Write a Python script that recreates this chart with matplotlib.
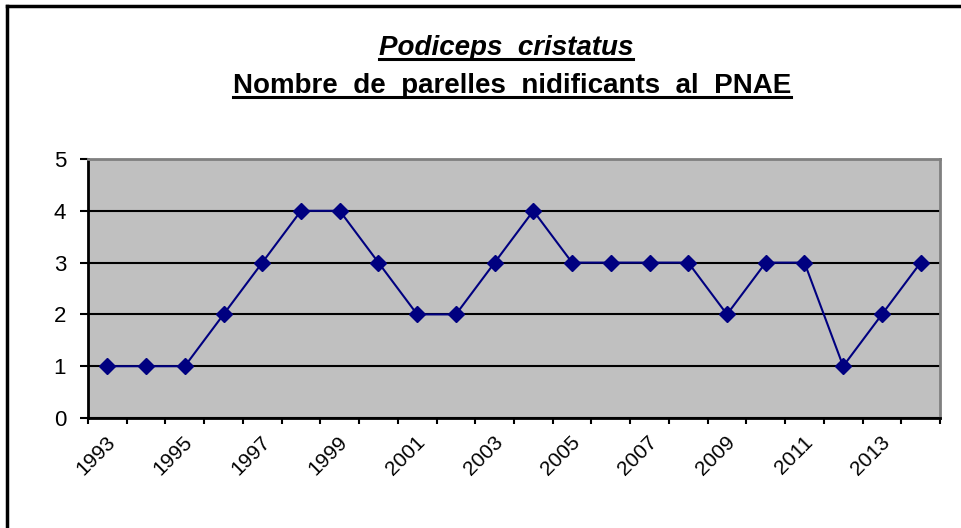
import matplotlib
matplotlib.use("Agg")
import matplotlib.pyplot as plt
import matplotlib.transforms as mtransforms
from matplotlib.lines import Line2D

plt.rcParams["font.family"] = ["Liberation Sans", "DejaVu Sans"]

# data
years = [str(y) for y in range(1993, 2015)]
parelles = [1, 1, 1, 2, 3, 4, 4, 3, 2, 2, 3, 4, 3, 3, 3, 3, 2, 3, 3, 1, 2, 3]
y_ticks = [0, 1, 2, 3, 4, 5]

W, H = 961, 528
fig = plt.figure(figsize=(W / 100, H / 100), dpi=100)
ax = fig.add_axes([88 / W, 1 - 418 / H, (940 - 88) / W, (418 - 159) / H])

ax.set_facecolor("#C0C0C0")
x = list(range(len(years)))
ax.plot(x, parelles, color="#000080", lw=1.5, marker="D", ms=8,
        mfc="#000080", mec="#000080", zorder=3, clip_on=False)

ax.set_xlim(-0.5, len(years) - 0.5)
ax.set_ylim(0, 5)
ax.set_yticks(y_ticks)
ax.yaxis.grid(True, color="black", lw=1.5)
ax.set_axisbelow(True)
ax.tick_params(axis="y", labelsize=16, length=5.8, width=1.5, direction="out", pad=10)

# labels on every other category, tick marks between categories
ax.set_xticks(x[::2])
ax.set_xticklabels(years[::2], rotation=45, ha="right", va="center",
                   rotation_mode="anchor", fontsize=15)
ax.tick_params(axis="x", which="major", length=0, pad=15)
ax.set_xticks([i - 0.5 for i in range(len(years) + 1)], minor=True)
ax.tick_params(axis="x", which="minor", length=4.5, width=1.5, direction="out")
shift = mtransforms.ScaledTranslation(5 / 100, 0, fig.dpi_scale_trans)
for lbl in ax.get_xticklabels():
    lbl.set_transform(lbl.get_transform() + shift)

for side in ["left", "bottom"]:
    ax.spines[side].set_color("black")
    ax.spines[side].set_linewidth(2)
for side in ["top", "right"]:
    ax.spines[side].set_color("#808080")
    ax.spines[side].set_linewidth(2)

# chart frame (only top and left edges visible)
fig.add_artist(Line2D([7 / W, 1], [1 - 6 / H, 1 - 6 / H], color="black", lw=2.5))
fig.add_artist(Line2D([7 / W, 7 / W], [0, 1 - 6 / H], color="black", lw=2.5))

t1 = fig.text(506 / W, 1 - 55 / H, "Podiceps  cristatus", ha="center", va="baseline",
              fontsize=20, fontweight="bold", fontstyle="italic")
t2 = fig.text(512 / W, 1 - 93 / H, "Nombre  de  parelles  nidificants  al  PNAE",
              ha="center", va="baseline", fontsize=20, fontweight="bold")

fig.canvas.draw()
for t, yu in ((t1, 59), (t2, 97)):
    bb = t.get_window_extent()
    fig.add_artist(Line2D([bb.x0 / W, bb.x1 / W], [1 - yu / H, 1 - yu / H],
                          color="black", lw=2.2))

fig.savefig("out.png", dpi=100)
